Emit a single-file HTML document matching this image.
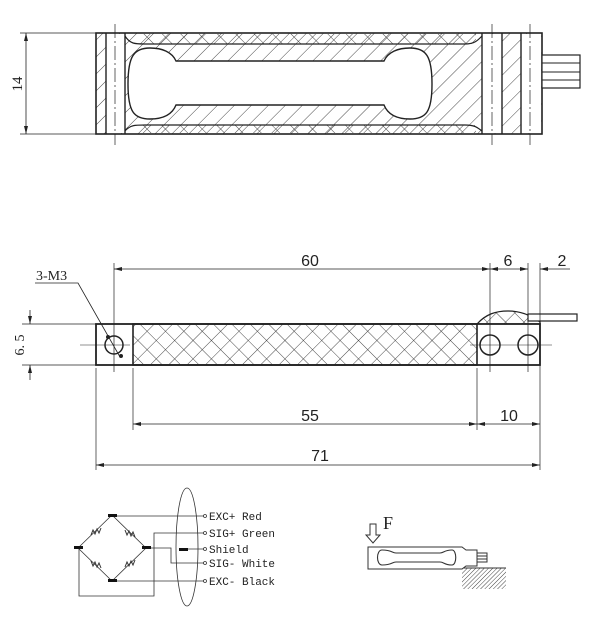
<!DOCTYPE html>
<html><head><meta charset="utf-8"><style>
html,body{margin:0;padding:0;background:#fff;}
svg{display:block;}
text{font-family:"Liberation Sans",sans-serif;fill:#222;}
.m{font-family:"Liberation Mono",monospace;}
.s{font-family:"Liberation Serif",serif;}
</style></head><body>
<svg width="600" height="635" viewBox="0 0 600 635" xmlns="http://www.w3.org/2000/svg">
<defs>
<pattern id="diag" width="12" height="12" patternUnits="userSpaceOnUse" patternTransform="rotate(45)">
<line x1="0" y1="0" x2="0" y2="12" stroke="#333" stroke-width="0.9"/>
</pattern>
<pattern id="xh" width="13" height="13" patternUnits="userSpaceOnUse" patternTransform="rotate(45)">
<line x1="0" y1="0" x2="0" y2="13" stroke="#333" stroke-width="0.9"/>
<line x1="0" y1="0" x2="13" y2="0" stroke="#333" stroke-width="0.9"/>
</pattern>
<pattern id="fine" width="3" height="3" patternUnits="userSpaceOnUse" patternTransform="rotate(45)">
<line x1="0" y1="0" x2="0" y2="3" stroke="#444" stroke-width="1"/>
</pattern>
<marker id="ar" markerWidth="8" markerHeight="6" refX="8" refY="3" orient="auto-start-reverse" markerUnits="userSpaceOnUse">
<path d="M0,1 L8,3 L0,5 z" fill="#222"/>
</marker>
</defs>

<!-- TOP VIEW -->
<g stroke="#222" fill="none">
<rect x="96" y="33" width="446" height="101" fill="url(#diag)" stroke-width="1.6"/>
<rect x="136" y="34" width="340" height="10" fill="url(#xh)" stroke="none"/>
<rect x="136" y="125" width="340" height="8" fill="url(#xh)" stroke="none"/>
<rect x="106" y="34" width="19" height="99" fill="#fff" stroke="none"/>
<rect x="482" y="34" width="20" height="99" fill="#fff" stroke="none"/>
<rect x="521" y="34" width="20" height="99" fill="#fff" stroke="none"/>
<line x1="106" y1="33" x2="106" y2="134" stroke-width="1.4"/>
<line x1="125" y1="33" x2="125" y2="134" stroke-width="1.4"/>
<line x1="482" y1="33" x2="482" y2="134" stroke-width="1.4"/>
<line x1="502" y1="33" x2="502" y2="134" stroke-width="1.4"/>
<line x1="521" y1="33" x2="521" y2="134" stroke-width="1.4"/>
<!-- dumbbell hole -->
<path d="M176,61 L384,61 C388,52 398,48 410,48 C426,48 432,56 432,84 C432,112 426,119 410,119 C398,119 388,115 384,105 L176,105 C172,115 162,119 150,119 C134,119 128,112 128,84 C128,56 134,48 150,48 C162,48 172,52 176,61 Z" fill="#fff" stroke-width="1.4"/>
<path d="M125,36 C130,44 135,44 145,44 L465,44 C475,44 478,40 482,36" stroke-width="1.2"/>
<path d="M125,131 C130,125 135,125 145,125 L465,125 C475,125 478,128 482,131" stroke-width="1.2"/>
<line x1="115" y1="24" x2="115" y2="145" stroke-width="0.7" stroke-dasharray="14,3,2,3"/>
<line x1="492" y1="24" x2="492" y2="145" stroke-width="0.7" stroke-dasharray="14,3,2,3"/>
<line x1="530" y1="24" x2="530" y2="145" stroke-width="0.7" stroke-dasharray="14,3,2,3"/>
<rect x="542" y="55" width="38" height="33" fill="#fff" stroke-width="1.2"/>
<line x1="542" y1="63" x2="580" y2="63"/><line x1="542" y1="72" x2="580" y2="72"/><line x1="542" y1="80" x2="580" y2="80"/>
<line x1="20" y1="33" x2="96" y2="33" stroke-width="0.8"/>
<line x1="20" y1="134" x2="96" y2="134" stroke-width="0.8"/>
<line x1="26" y1="33" x2="26" y2="134" stroke-width="0.8" marker-start="url(#ar)" marker-end="url(#ar)"/>
</g>
<text x="22" y="84" font-size="15" class="s" transform="rotate(-90 22 84)" text-anchor="middle">14</text>

<!-- SIDE VIEW -->
<g stroke="#222" fill="none">
<path d="M477,324 C486,314 496,311 508,311 C522,311 532,316 540,322 L540,324 Z" fill="url(#xh)" stroke-width="1.3"/>
<rect x="528" y="314" width="49" height="7" fill="#fff" stroke-width="1.2"/>
<rect x="96" y="324" width="444" height="41" fill="#fff" stroke-width="1.8"/>
<rect x="133" y="324" width="344" height="41" fill="url(#xh)" stroke-width="1.6"/>
<circle cx="114" cy="345" r="9" stroke-width="1.5"/>
<circle cx="490" cy="345" r="10" stroke-width="1.5"/>
<circle cx="528" cy="345" r="10" stroke-width="1.5"/>
<line x1="80" y1="345" x2="130" y2="345" stroke-width="0.6"/>
<line x1="470" y1="345" x2="552" y2="345" stroke-width="0.6"/>
<line x1="114" y1="263" x2="114" y2="372" stroke-width="0.7"/>
<line x1="490" y1="263" x2="490" y2="372" stroke-width="0.7"/>
<line x1="528" y1="263" x2="528" y2="372" stroke-width="0.7"/>
<line x1="540" y1="263" x2="540" y2="470" stroke-width="0.7"/>
<line x1="133" y1="368" x2="133" y2="430" stroke-width="0.7"/>
<line x1="477" y1="368" x2="477" y2="430" stroke-width="0.7"/>
<line x1="96" y1="368" x2="96" y2="470" stroke-width="0.7"/>
<line x1="114" y1="269" x2="490" y2="269" stroke-width="0.8" marker-start="url(#ar)" marker-end="url(#ar)"/>
<line x1="490" y1="269" x2="528" y2="269" stroke-width="0.8" marker-start="url(#ar)" marker-end="url(#ar)"/>
<line x1="570" y1="269" x2="540" y2="269" stroke-width="0.8" marker-end="url(#ar)"/>
<line x1="133" y1="424" x2="477" y2="424" stroke-width="0.8" marker-start="url(#ar)" marker-end="url(#ar)"/>
<line x1="477" y1="424" x2="540" y2="424" stroke-width="0.8" marker-start="url(#ar)" marker-end="url(#ar)"/>
<line x1="96" y1="465" x2="540" y2="465" stroke-width="0.8" marker-start="url(#ar)" marker-end="url(#ar)"/>
<line x1="22" y1="324" x2="96" y2="324" stroke-width="0.7"/>
<line x1="22" y1="365" x2="96" y2="365" stroke-width="0.7"/>
<line x1="30" y1="310" x2="30" y2="324" stroke-width="0.8" marker-end="url(#ar)"/>
<line x1="30" y1="380" x2="30" y2="365" stroke-width="0.8" marker-end="url(#ar)"/>
<polyline points="35,283 78,283 120,357" stroke-width="0.8"/>
<circle cx="108" cy="337" r="1.5" fill="#222"/>
<circle cx="121" cy="356" r="1.5" fill="#222"/>
</g>
<text x="36" y="280" font-size="14" class="s">3-M3</text>
<text x="24" y="345" font-size="14" class="s" transform="rotate(-90 24 345)" text-anchor="middle">6. 5</text>
<text x="310" y="266" font-size="16" text-anchor="middle">60</text>
<text x="508" y="266" font-size="16" text-anchor="middle">6</text>
<text x="562" y="266" font-size="16" text-anchor="middle">2</text>
<text x="310" y="421" font-size="16" text-anchor="middle">55</text>
<text x="509" y="421" font-size="16" text-anchor="middle">10</text>
<text x="320" y="461" font-size="16" text-anchor="middle">71</text>

<!-- BRIDGE -->
<g stroke="#333" fill="none" stroke-width="0.8">
<line x1="112" y1="515" x2="78" y2="548"/>
<line x1="112" y1="515" x2="146" y2="548"/>
<line x1="78" y1="548" x2="112" y2="581"/>
<line x1="146" y1="548" x2="112" y2="581"/>
<path d="M91,535 l2,-5 l2,4 l2,-5 l2,4 l2,-5" stroke-width="1"/>
<path d="M125,530 l2,5 l2,-4 l2,5 l2,-4 l2,5" stroke-width="1"/>
<path d="M91,561 l2,5 l2,-4 l2,5 l2,-4 l2,5" stroke-width="1"/>
<path d="M125,567 l2,-5 l2,4 l2,-5 l2,4 l2,-5" stroke-width="1"/>
<line x1="112" y1="516" x2="204" y2="516"/>
<polyline points="204,533 154,533 154,596 79,596 79,548"/>
<polyline points="146,548 171,548 171,563 204,563"/>
<line x1="180" y1="549" x2="204" y2="549"/>
<line x1="112" y1="581" x2="204" y2="581"/>
<ellipse cx="187" cy="547" rx="11" ry="59"/>
<circle cx="205" cy="516" r="1.5"/><circle cx="205" cy="533" r="1.5"/><circle cx="205" cy="549" r="1.5"/><circle cx="205" cy="563" r="1.5"/><circle cx="205" cy="581" r="1.5"/>
</g>
<g fill="#111">
<rect x="108" y="514" width="9" height="3"/>
<rect x="74" y="546" width="9" height="3"/>
<rect x="142" y="546" width="9" height="3"/>
<rect x="108" y="579" width="9" height="3"/>
<rect x="179" y="548" width="9" height="3"/>
</g>
<g font-size="11">
<text x="209" y="520" class="m">EXC+ Red</text>
<text x="209" y="537" class="m">SIG+ Green</text>
<text x="209" y="553" class="m">Shield</text>
<text x="209" y="567" class="m">SIG- White</text>
<text x="209" y="585" class="m">EXC- Black</text>
</g>

<!-- F figure -->
<g stroke="#333" fill="none" stroke-width="1">
<path d="M370,524 L376,524 L376,535 L380,535 L373,543 L366,535 L370,535 Z" fill="#fff"/>
<rect x="462" y="568" width="44" height="21" fill="url(#fine)" stroke="none"/>
<line x1="462" y1="568" x2="506" y2="568"/>
<path d="M368,547 L462,547 L466,550 L477,550 L477,566 L466,566 L462,569 L368,569 Z" fill="#fff"/>
<path d="M382,550 C392,550 392,553 396,553 L440,553 C444,553 444,550 452,550 C457,550 457,565 452,565 C444,565 444,562 440,562 L396,562 C392,562 392,565 382,565 C376,565 376,550 382,550 Z" stroke-width="1.1"/>
<rect x="477" y="553" width="10" height="9"/>
<line x1="477" y1="556" x2="487" y2="556"/><line x1="477" y1="559" x2="487" y2="559"/>
</g>
<text x="383" y="529" font-size="18" class="s">F</text>
</svg>
</body></html>
